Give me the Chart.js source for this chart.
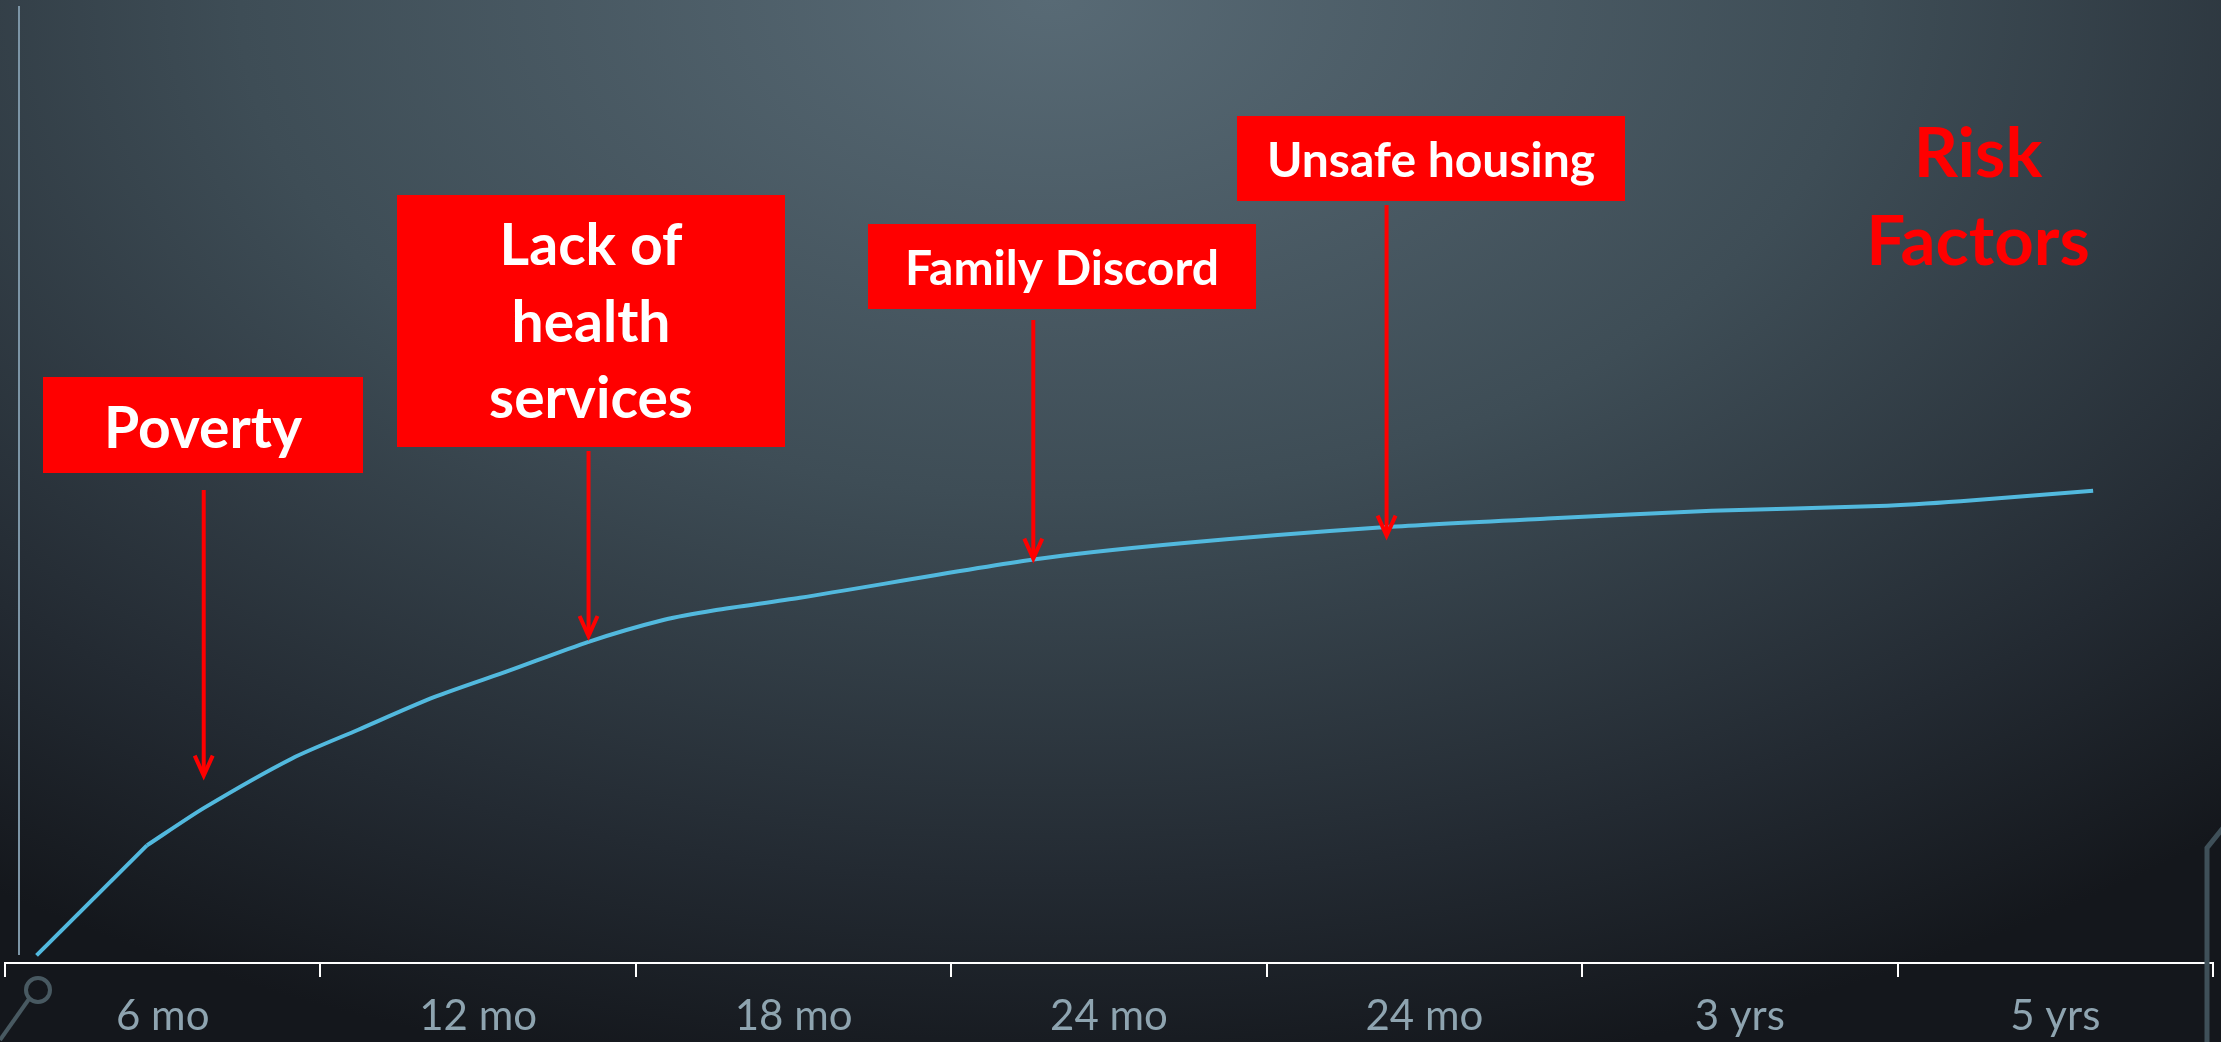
<!DOCTYPE html>
<html>
<head>
<meta charset="utf-8">
<title>Risk Factors</title>
<script src="https://cdn.jsdelivr.net/npm/chart.js@4.4.1/dist/chart.umd.min.js"></script>
<style>
    html, body { margin: 0; padding: 0; overflow: hidden; }
    body {
        width: 2221px;
        height: 1042px;
        background: #14171c radial-gradient(ellipse 1800px 1100px at 1050px 0px, #586a75 0%, #3e4d56 45%, #232a32 80%, #14171c 100%);
    }
    canvas { display: block; }
</style>
</head>
<body>
<canvas id="riskChart" width="2221" height="1042"></canvas>
<script>
// age bands along the bottom axis
const ageLabels = ['6 mo', '12 mo', '18 mo', '24 mo', '24 mo', '3 yrs', '5 yrs'];

// curve: position along the age axis (0..7) and height (0..100)
const curveX = [0.1, 0.45, 0.63, 0.91, 1.12, 1.36, 1.6, 1.85, 2.09, 2.25, 2.52, 3.26, 3.73, 4.38, 4.89, 5.41, 5.94, 6.2, 6.62];
const curveY = [0.8, 12.3, 16.2, 21.4, 24.4, 27.8, 30.6, 33.6, 35.9, 36.9, 38.2, 42.2, 43.9, 45.6, 46.5, 47.3, 47.8, 48.3, 49.4];

// risk factor call-outs
const riskFactors = [['Poverty'], ['Lack of', 'health', 'services'], ['Family Discord'], ['Unsafe housing']];
const riskAt = [0.63, 1.85, 3.26, 4.38];
const riskTip = [19.5, 34.1, 42.2, 44.6];

const titleLines = ['Risk', 'Factors'];

const riskChart = (function() {
    const RED = '#ff0000';
    const LINE = '#52b9de';

    // boxes in page pixels (layout only)
    const boxes = [
        { x: 43, y: 377, w: 320, h: 96, size: 57, base: [448], arrowTop: 490 },
        { x: 397, y: 195, w: 388, h: 252, size: 57, base: [265, 342, 418], arrowTop: 451 },
        { x: 868, y: 224, w: 388, h: 85, size: 48, base: [285], arrowTop: 320 },
        { x: 1237, y: 116, w: 388, h: 85, size: 48, base: [177], arrowTop: 205 }
    ];

    function drawArrow(ctx, x, top, tip) {
        ctx.save();
        ctx.strokeStyle = RED;
        ctx.lineWidth = 4;
        ctx.beginPath();
        ctx.moveTo(x, top);
        ctx.lineTo(x, tip - 2);
        ctx.stroke();
        ctx.lineJoin = 'miter';
        ctx.beginPath();
        ctx.moveTo(x - 9, tip - 21);
        ctx.lineTo(x, tip - 1);
        ctx.lineTo(x + 9, tip - 21);
        ctx.stroke();
        ctx.restore();
    }

    const decor = {
        id: 'decor',
        afterDraw(chart) {
            const ctx = chart.ctx;
            const xs = chart.scales.x2;
            const ys = chart.scales.y;

            // thin vertical rule on the left
            ctx.save();
            ctx.strokeStyle = '#7c95a6';
            ctx.lineWidth = 2;
            ctx.beginPath();
            ctx.moveTo(19, 6);
            ctx.lineTo(19, 955);
            ctx.stroke();

            // slide ornaments
            ctx.strokeStyle = '#485961';
            ctx.lineWidth = 4;
            ctx.beginPath();
            ctx.arc(38, 990, 12, 0, Math.PI * 2);
            ctx.stroke();
            ctx.beginPath();
            ctx.moveTo(29, 999);
            ctx.lineTo(0, 1040);
            ctx.stroke();
            ctx.strokeStyle = '#3f5059';
            ctx.lineWidth = 5;
            ctx.beginPath();
            ctx.moveTo(2223, 828);
            ctx.lineTo(2207, 848);
            ctx.lineTo(2207, 1045);
            ctx.stroke();
            ctx.restore();

            riskFactors.forEach((lines, i) => {
                const b = boxes[i];
                ctx.save();
                ctx.fillStyle = RED;
                ctx.fillRect(b.x, b.y, b.w, b.h);
                ctx.fillStyle = '#ffffff';
                ctx.font = `bold ${b.size}px Lato, "Open Sans", sans-serif`;
                ctx.textAlign = 'center';
                ctx.textBaseline = 'alphabetic';
                lines.forEach((t, j) => ctx.fillText(t, b.x + b.w / 2, b.base[j]));
                ctx.restore();
                drawArrow(ctx, xs.getPixelForValue(riskAt[i]), b.arrowTop, ys.getPixelForValue(riskTip[i]));
            });

            ctx.save();
            ctx.fillStyle = RED;
            ctx.font = 'bold 69px Lato, "Open Sans", sans-serif';
            ctx.textAlign = 'center';
            ctx.textBaseline = 'alphabetic';
            ctx.fillText(titleLines[0], 1978, 177);
            ctx.fillText(titleLines[1], 1978, 265);
            ctx.restore();
        }
    };

    const points = curveX.map((x, i) => ({ x, y: curveY[i] }));

    function lineSet(data, tension) {
        return {
            data,
            xAxisID: 'x2',
            yAxisID: 'y',
            borderColor: LINE,
            borderWidth: 4,
            pointRadius: 0,
            tension,
            fill: false
        };
    }

    function init() {
        const ctx = document.getElementById('riskChart').getContext('2d');
        return new Chart(ctx, {
            type: 'line',
            data: {
                labels: ageLabels,
                // straight run up to the 6 mo kink, smooth after it
                datasets: [lineSet(points.slice(0, 2), 0), lineSet(points.slice(1), 0.25)]
            },
            options: {
                responsive: false,
                animation: false,
                devicePixelRatio: 1,
                layout: { padding: { top: 7, left: 5, right: 8, bottom: 0 } },
                plugins: { legend: { display: false }, tooltip: { enabled: false } },
                scales: {
                    x: {
                        type: 'category',
                        offset: true,
                        grid: {
                            offset: true,
                            drawOnChartArea: false,
                            drawTicks: true,
                            tickLength: 14,
                            color: '#ffffff',
                            lineWidth: 2
                        },
                        border: { display: true, color: '#ffffff', width: 2 },
                        ticks: {
                            color: '#8ea4b0',
                            padding: 14,
                            maxRotation: 0,
                            autoSkip: false,
                            font: { family: 'Lato, "Open Sans", sans-serif', size: 42 }
                        },
                        afterFit(scale) { scale.height = 79; }
                    },
                    x2: { type: 'linear', display: false, min: 0, max: 7 },
                    y: { display: false, min: 0, max: 100 }
                }
            },
            plugins: [decor]
        });
    }

    return { init };
})();

riskChart.init();
</script>
</body>
</html>
